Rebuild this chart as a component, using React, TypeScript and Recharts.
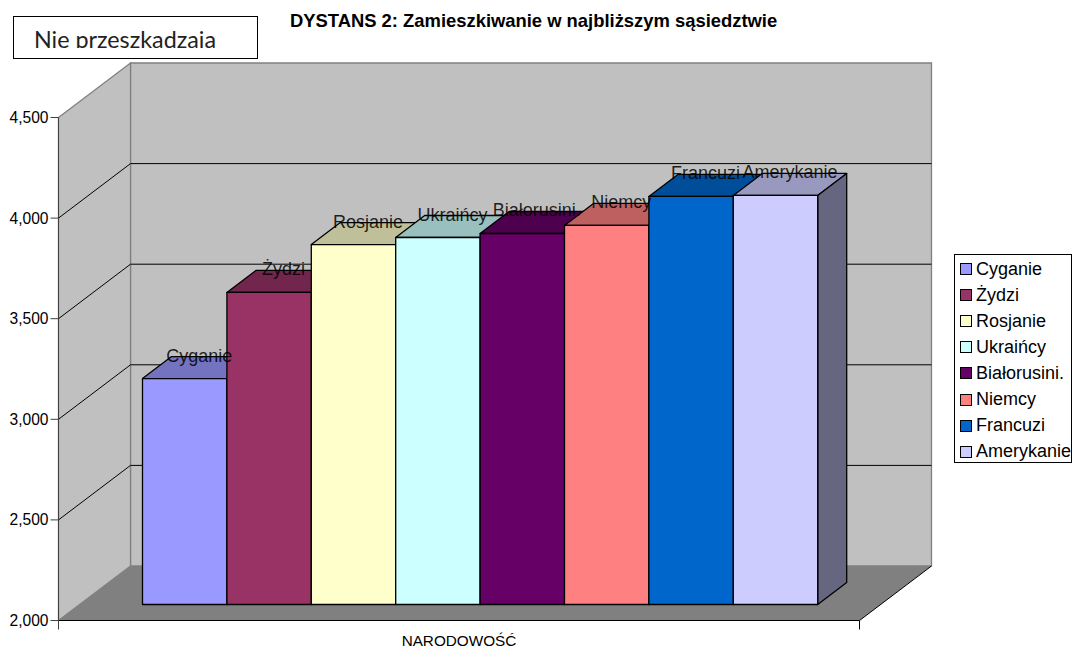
import { Bar, BarChart, LabelList, Legend, XAxis, YAxis } from "recharts"

const categories = ["NARODOWOŚĆ"]
const seriesNames = ["Cyganie", "Żydzi", "Rosjanie", "Ukraińcy", "Białorusini.", "Niemcy", "Francuzi", "Amerykanie"]
const seriesValues = [3123, 3551, 3789, 3824, 3844, 3884, 4028, 4033]
const seriesColors = ["#9999FF", "#993366", "#FFFFCC", "#CCFFFF", "#660066", "#FF8080", "#0066CC", "#CCCCFF"]
const topColors = ["#7373BF", "#73264D", "#BFBF99", "#99BFBF", "#4D004D", "#BF6060", "#004D99", "#9999BF"]
const sideColors = ["#4D4D80", "#4D1A33", "#808066", "#668080", "#330033", "#804040", "#003366", "#666680"]
const yTicks = [2000, 2500, 3000, 3500, 4000, 4500]

const data = categories.map((name) => {
  const row: Record<string, string | number> = { name }
  seriesNames.forEach((s, i) => (row[s] = seriesValues[i]))
  return row
})

const W = 1072
const H = 648
const LEFT = 58.5
const RIGHT = 859.5
const TOP = 117.5
const BOTTOM = 620.5
// depth of the 3d box
const WALL_DX = 72
const WALL_DY = 54.5
const BAR_OFF_DX = 21
const BAR_OFF_DY = 16
const BAR_DX = 29
const BAR_DY = 22

const yOf = (v: number) => BOTTOM - ((v - 2000) / 2500) * (BOTTOM - TOP)

function Walls() {
  const bx = LEFT + WALL_DX
  const brx = RIGHT + WALL_DX
  const by = BOTTOM - WALL_DY
  const ty = TOP - WALL_DY
  return (
    <g>
      <polygon points={`${bx},${ty} ${brx},${ty} ${brx},${by} ${bx},${by}`} fill="#C0C0C0" stroke="#808080" strokeWidth={1.3} />
      <polygon points={`${LEFT},${TOP} ${bx},${ty} ${bx},${by} ${LEFT},${BOTTOM}`} fill="#C0C0C0" stroke="#808080" strokeWidth={1.3} />
      <polygon points={`${LEFT},${BOTTOM} ${bx},${by} ${brx},${by} ${RIGHT},${BOTTOM}`} fill="#808080" />
      {yTicks.slice(1, -1).map((v) => (
        <g key={v} stroke="#000" strokeWidth={1}>
          <line x1={LEFT} y1={yOf(v)} x2={bx} y2={yOf(v) - WALL_DY} />
          <line x1={bx} y1={yOf(v) - WALL_DY} x2={brx} y2={yOf(v) - WALL_DY} />
        </g>
      ))}
      <line x1={RIGHT} y1={BOTTOM} x2={brx} y2={by} stroke="#000" />
      <line x1={LEFT} y1={BOTTOM} x2={LEFT} y2={BOTTOM + 9} stroke="#404040" />
      <line x1={RIGHT} y1={BOTTOM} x2={RIGHT} y2={BOTTOM + 9} stroke="#000" />
    </g>
  )
}

function Box3D(props: any) {
  const { x, y, width, height, colorIndex } = props
  const fx = x + BAR_OFF_DX
  const fy = y - BAR_OFF_DY
  const fr = fx + width
  const fb = fy + height
  return (
    <g stroke="#000" strokeWidth={1.3} strokeLinejoin="round">
      <polygon points={`${fx},${fy} ${fx + BAR_DX},${fy - BAR_DY} ${fr + BAR_DX},${fy - BAR_DY} ${fr},${fy}`} fill={topColors[colorIndex]} />
      <polygon points={`${fr},${fy} ${fr + BAR_DX},${fy - BAR_DY} ${fr + BAR_DX},${fb - BAR_DY} ${fr},${fb}`} fill={sideColors[colorIndex]} />
      <rect x={fx} y={fy} width={width} height={height} fill={seriesColors[colorIndex]} />
    </g>
  )
}

function BarLabel(props: any) {
  const { x, y, width, value } = props
  return (
    <text
      x={x + BAR_OFF_DX + width / 2 + BAR_DX / 2}
      y={y - BAR_OFF_DY - 17}
      textAnchor="middle"
      fontFamily="Liberation Sans"
      fontSize={18}
      fill="#000"
      fillOpacity={0.85}
    >
      {value}
    </text>
  )
}

function LegendBox({ payload }: any) {
  return (
    <div style={{ width: 118, height: 209, boxSizing: "border-box", border: "1px solid #000", background: "#fff", padding: "1px 0 0 5px", fontFamily: "Liberation Sans", fontSize: 18, color: "#000" }}>
      {(payload || []).map((p: any) => (
        <div key={p.value} style={{ display: "flex", alignItems: "center", height: 26.1, whiteSpace: "nowrap" }}>
          <span style={{ width: 10, height: 10, border: "1.3px solid #000", background: p.color, marginRight: 4, flexShrink: 0 }} />
          {p.value}
        </div>
      ))}
    </div>
  )
}

export default function App() {
  return (
    <div style={{ position: "absolute", left: 0, top: 0, width: W, height: H, background: "#fff", overflow: "hidden" }}>
      <BarChart
        width={W}
        height={H}
        data={data}
        margin={{ top: TOP, right: W - RIGHT, bottom: 0, left: 0 }}
        barSize={84.4}
        barGap={0}
      >
        <Walls />
        <XAxis
          dataKey="name"
          stroke="#000"
          tickLine={false}
          height={H - BOTTOM}
          tickMargin={9}
          tick={{ fontFamily: "Liberation Sans", fontSize: 15.3, fill: "#000" }}
        />
        <YAxis
          width={LEFT}
          domain={[2000, 4500]}
          ticks={yTicks}
          stroke="#404040"
          tickSize={8}
          tickMargin={2}
          tick={{ fontFamily: "Liberation Sans", fontSize: 15.6, fill: "#000" }}
          tickFormatter={(v: number) => v.toLocaleString("en-US")}
        />
        <Legend
          layout="horizontal"
          align="center"
          verticalAlign="middle"
          itemSorter={null}
          content={<LegendBox />}
          wrapperStyle={{ position: "absolute", left: 954, top: 254, width: 118, height: 209 }}
        />
        {seriesNames.map((s, i) => (
          <Bar key={s} dataKey={s} name={s} fill={seriesColors[i]} isAnimationActive={false} shape={<Box3D colorIndex={i} />} />
        ))}
      </BarChart>
      {/* labels sit over every box, so they get their own chart on top with the same scales */}
      <div style={{ position: "absolute", left: 0, top: 0 }}>
        <BarChart
          width={W}
          height={H}
          data={data}
          margin={{ top: TOP, right: W - RIGHT, bottom: H - BOTTOM, left: LEFT }}
          barSize={84.4}
          barGap={0}
        >
          <XAxis dataKey="name" hide />
          <YAxis domain={[2000, 4500]} ticks={yTicks} hide />
          {seriesNames.map((s) => (
            <Bar key={s} dataKey={s} fill="none" isAnimationActive={false}>
              <LabelList dataKey={() => s} content={<BarLabel />} />
            </Bar>
          ))}
        </BarChart>
      </div>
      <div style={{ position: "absolute", left: 290, top: 10, fontFamily: "Liberation Sans", fontSize: 18.4, fontWeight: "bold", color: "#000", whiteSpace: "nowrap" }}>
        DYSTANS 2: Zamieszkiwanie w najbliższym sąsiedztwie
      </div>
      <div style={{ position: "absolute", left: 13, top: 16, width: 245, height: 43, boxSizing: "border-box", border: "1.5px solid #000", background: "#fff" }}>
        <div style={{ position: "absolute", left: 20, top: 10, height: 21, overflow: "hidden", fontFamily: "Lato", fontSize: 23.3, lineHeight: "24px", color: "#222", whiteSpace: "nowrap" }}>
          Nie przeszkadzają
        </div>
      </div>
    </div>
  )
}
